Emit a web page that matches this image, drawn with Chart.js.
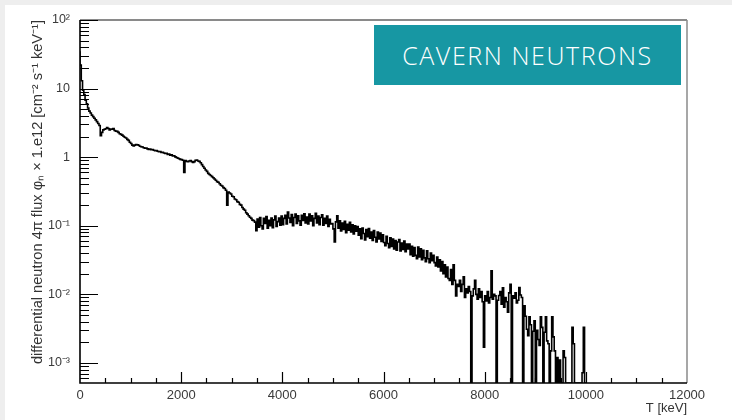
<!DOCTYPE html>
<html>
<head>
<meta charset="utf-8">
<script src="https://cdn.jsdelivr.net/npm/chart.js@4.4.1/dist/chart.umd.min.js"></script>
<style>
html, body { margin: 0; padding: 0; background: #eeeeee; }
#wrap { position: relative; width: 732px; height: 420px; overflow: hidden; }
#panel { position: absolute; left: 5px; top: 5px; right: 0; bottom: 0; background: #ffffff; }
#spectrum { position: absolute; left: 0; top: 0; }
#badge {
    position: absolute; left: 374px; top: 25px; width: 307px; height: 60px;
    background: #1797a3; color: #ffffff;
    font-family: "Open Sans", sans-serif; font-weight: 300; font-size: 25px;
    letter-spacing: 1.6px;
    display: flex; align-items: center; justify-content: center;
}
</style>
</head>
<body>
<div id="wrap">
    <div id="panel"></div>
    <canvas id="spectrum" width="732" height="420"></canvas>
    <div id="badge">CAVERN NEUTRONS</div>
</div>
<script>
// histogram binning (keV)
var binWidth = 25;

// flux per 25 keV bin from 0 keV, x 1.e12 [cm^-2 s^-1 keV^-1]; 0 = empty bin
// one row = 500 keV
var flux = [
    35, 22, 13, 9.5, 8.2, 6.8, 6.0, 5.2, 4.7, 4.4, 4.1, 3.9, 3.7, 3.5, 3.3, 3.1, 2.9, 2.05, 2.3, 2.5,
    2.55, 2.6, 2.7, 2.62, 2.5, 2.58, 2.55, 2.62, 2.45, 2.4, 2.38, 2.3, 2.2, 2.15, 2.1, 2.02, 1.95, 1.9, 1.82, 1.76,
    1.65, 1.58, 1.5, 1.46, 1.5, 1.53, 1.52, 1.49, 1.44, 1.42, 1.41, 1.37, 1.35, 1.36, 1.32, 1.3, 1.31, 1.28, 1.29, 1.26,
    1.24, 1.25, 1.22, 1.2, 1.21, 1.17, 1.18, 1.15, 1.13, 1.14, 1.1, 1.11, 1.07, 1.08, 1.04, 1.05, 1.01, 0.99, 0.97, 0.95,
    0.93, 0.92, 0.9, 0.6, 0.89, 0.87, 0.86, 0.88, 0.89, 0.86, 0.84, 0.86, 0.9, 0.91, 0.88, 0.87, 0.83, 0.78, 0.73, 0.69,
    0.65, 0.62, 0.58, 0.56, 0.54, 0.52, 0.5, 0.48, 0.46, 0.44, 0.43, 0.41, 0.39, 0.38, 0.36, 0.35, 0.33, 0.2, 0.31, 0.3,
    0.29, 0.27, 0.265, 0.245, 0.24, 0.225, 0.22, 0.205, 0.2, 0.185, 0.175, 0.168, 0.155, 0.148, 0.14, 0.133, 0.128, 0.121, 0.119, 0.113,
    0.085, 0.125, 0.095, 0.132, 0.1, 0.09, 0.128, 0.108, 0.136, 0.092, 0.12, 0.1, 0.13, 0.094, 0.122, 0.138, 0.098, 0.115, 0.13, 0.102,
    0.138, 0.104, 0.128, 0.142, 0.106, 0.158, 0.13, 0.112, 0.146, 0.1, 0.132, 0.148, 0.108, 0.14, 0.118, 0.102, 0.142, 0.12, 0.15, 0.11,
    0.134, 0.106, 0.148, 0.118, 0.14, 0.1, 0.128, 0.152, 0.11, 0.138, 0.104, 0.132, 0.145, 0.102, 0.128, 0.108, 0.138, 0.098, 0.124, 0.106,
    0.108, 0.09, 0.058, 0.114, 0.14, 0.092, 0.118, 0.084, 0.11, 0.088, 0.116, 0.079, 0.105, 0.086, 0.112, 0.081, 0.103, 0.076, 0.1, 0.083,
    0.097, 0.073, 0.09, 0.065, 0.093, 0.077, 0.062, 0.088, 0.069, 0.091, 0.066, 0.081, 0.061, 0.085, 0.068, 0.058, 0.081, 0.064, 0.078, 0.059,
    0.074, 0.057, 0.051, 0.07, 0.055, 0.048, 0.067, 0.05, 0.064, 0.046, 0.061, 0.044, 0.058, 0.063, 0.043, 0.056, 0.045, 0.06, 0.042, 0.054,
    0.046, 0.054, 0.038, 0.05, 0.036, 0.048, 0.037, 0.033, 0.049, 0.035, 0.046, 0.032, 0.044, 0.034, 0.03, 0.043, 0.033, 0.029, 0.04, 0.031,
    0.037, 0.029, 0.026, 0.035, 0.025, 0.032, 0.022, 0.03, 0.02, 0.027, 0.018, 0.025, 0.017, 0.016, 0.023, 0.014, 0.027, 0.016, 0.0095, 0.014,
    0.013, 0.016, 0.011, 0.014, 0.018, 0.009, 0.012, 0.0105, 0.013, 0.011, 0, 0.0095, 0.012, 0.016, 0.01, 0.0085, 0.012, 0.009, 0.011, 0.0078,
    0.0017, 0.0095, 0.008, 0.011, 0.0075, 0.009, 0.022, 0.0085, 0.01, 0.0095, 0, 0.0082, 0.0096, 0.011, 0.0072, 0.0125, 0.0065, 0.009, 0.0078, 0.0055,
    0.0105, 0.014, 0, 0.0095, 0.0088, 0.0105, 0.0075, 0.0082, 0.0126, 0.0098, 0.009, 0, 0.0068, 0.0048, 0.0031, 0.0025, 0.0047, 0.0036, 0, 0.0029,
    0.0041, 0, 0.003, 0.0022, 0.0018, 0.0047, 0.0033, 0, 0.0028, 0.0047, 0.0021, 0.0019, 0, 0.0015, 0.0047, 0.0024, 0.0015, 0, 0.0012, 0,
    0.0011, 0, 0, 0.0015, 0.0012, 0, 0, 0, 0, 0, 0.0033, 0.0019, 0, 0, 0, 0, 0, 0, 0.00072, 0.0033
];

var xMin = 0, xMax = 12000, xStep = 2000;
var yMin = 5.1e-4, yMax = 100;
var yTickValues = [1e-3, 1e-2, 1e-1, 1, 10, 100];
var yTickLabels = ['10⁻³', '10⁻²', '10⁻¹', '1', '10', '10²'];
var xTitle = 'T [keV]';
var yTitle = 'differential neutron 4π flux φₙ × 1.e12 [cm⁻² s⁻¹ keV⁻¹]';

// step points at bin low edges, empty bins sit on the frame bottom
var points = flux.map(function (v, i) {
    return { x: i * binWidth, y: v > 0 ? v : yMin };
});
points.push({ x: flux.length * binWidth, y: yMin });

// ROOT-like frame: inward ticks, black axes, grey top/right edges
var frameTicks = {
    id: 'frameTicks',
    beforeDraw: function (chart) {
        var ctx = chart.ctx;
        ctx.save();
        ctx.fillStyle = '#ffffff';
        ctx.fillRect(5, 5, chart.width - 5, chart.height - 5);
        ctx.restore();
    },
    afterDatasetsDraw: function (chart) {
        var ctx = chart.ctx;
        var a = chart.chartArea;
        var xs = chart.scales.x, ys = chart.scales.y;
        ctx.save();

        ctx.strokeStyle = '#8a8a8a';
        ctx.lineWidth = 2;
        ctx.beginPath();
        ctx.moveTo(a.left, a.top);
        ctx.lineTo(a.right, a.top);
        ctx.stroke();
        ctx.lineWidth = 1.5;
        ctx.beginPath();
        ctx.moveTo(a.right, a.top);
        ctx.lineTo(a.right, a.bottom);
        ctx.stroke();

        ctx.strokeStyle = '#000000';
        ctx.lineWidth = 1.2;
        ctx.beginPath();
        for (var d = -4; d <= 2; d++) {
            for (var m = 1; m <= 9; m++) {
                var v = m * Math.pow(10, d);
                if (v < yMin || v > yMax) continue;
                var py = Math.round(ys.getPixelForValue(v)) + 0.5;
                var len = m === 1 ? 18 : 9;
                ctx.moveTo(a.left, py);
                ctx.lineTo(a.left + len, py);
            }
        }
        for (var t = xMin + 500; t < xMax; t += 500) {
            var px = Math.round(xs.getPixelForValue(t)) + 0.5;
            var tl = t % xStep === 0 ? 11 : 5;
            ctx.moveTo(px, a.bottom);
            ctx.lineTo(px, a.bottom - tl);
        }
        ctx.stroke();

        ctx.lineWidth = 1.6;
        ctx.beginPath();
        ctx.moveTo(a.left, a.top);
        ctx.lineTo(a.left, a.bottom);
        ctx.lineTo(a.right, a.bottom);
        ctx.stroke();
        ctx.restore();
    }
};

new Chart(document.getElementById('spectrum'), {
    type: 'line',
    data: {
        datasets: [{
            data: points,
            borderColor: '#000000',
            borderWidth: 1.6,
            pointRadius: 0,
            stepped: 'after',
            fill: false
        }]
    },
    options: {
        responsive: false,
        animation: false,
        events: [],
        layout: { padding: { left: 5, top: 20, right: 45, bottom: 0 } },
        plugins: { legend: { display: false }, tooltip: { enabled: false } },
        scales: {
            x: {
                type: 'linear',
                min: xMin,
                max: xMax,
                grid: { display: false, drawTicks: false, tickLength: 0 },
                border: { display: false },
                ticks: {
                    stepSize: xStep,
                    padding: 5,
                    color: '#3a3a3a',
                    maxRotation: 0,
                    font: { family: 'Liberation Sans', size: 13 },
                    callback: function (v) { return String(v); }
                },
                title: {
                    display: true,
                    text: xTitle,
                    align: 'end',
                    color: '#333333',
                    padding: { top: 0, bottom: 4 },
                    font: { family: 'Liberation Sans', size: 13 }
                },
                afterFit: function (s) { s.height = 37; }
            },
            y: {
                type: 'logarithmic',
                min: yMin,
                max: yMax,
                grid: { display: false, drawTicks: false, tickLength: 0 },
                border: { display: false },
                afterBuildTicks: function (s) {
                    s.ticks = yTickValues.map(function (v) { return { value: v }; });
                },
                ticks: {
                    autoSkip: false,
                    padding: 10,
                    color: '#3a3a3a',
                    font: { family: 'Liberation Sans', size: 12.5 },
                    callback: function (v) {
                        var i = yTickValues.indexOf(v);
                        return i >= 0 ? yTickLabels[i] : '';
                    }
                },
                title: {
                    display: true,
                    text: yTitle,
                    align: 'end',
                    color: '#333333',
                    padding: { top: 24, bottom: 0 },
                    font: { family: 'Liberation Sans', size: 14.6 }
                },
                afterFit: function (s) { s.width = 75; }
            }
        }
    },
    plugins: [frameTicks]
});
</script>
</body>
</html>
